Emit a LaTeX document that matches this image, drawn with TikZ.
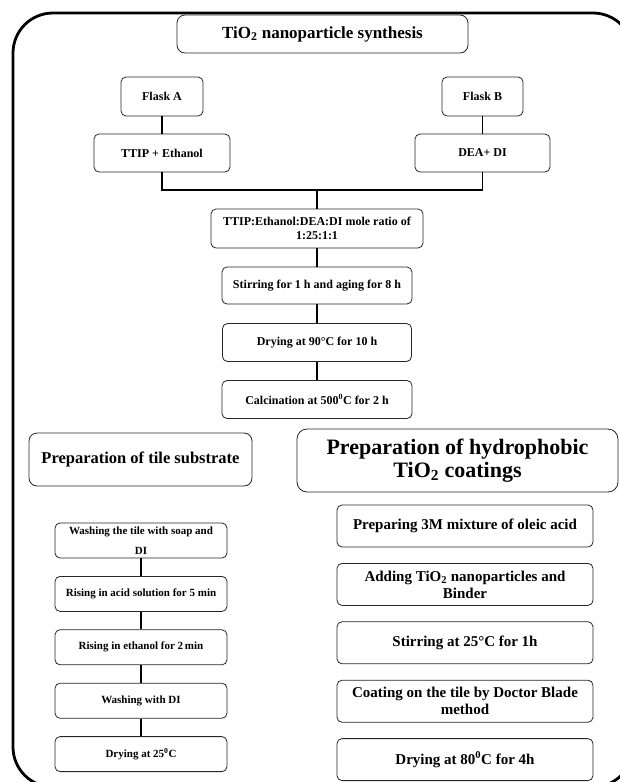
\documentclass[tikz,border=0pt]{standalone}
\usepackage{fontspec}
\setmainfont{Liberation Serif}
\usetikzlibrary{positioning}

\newcommand{\tiotwo}{TiO\textsubscript{2}}

\begin{document}
\begin{tikzpicture}[-, x=1pt, y=1pt, node distance=57pt, semithick]
  \tikzstyle{box}=[draw=black!85, line width=0.8pt, rounded corners=5pt, fill=white, align=center, inner sep=0pt, font=\bfseries\fontsize{12}{14}\selectfont]
  \tikzstyle{head}=[box, rounded corners=8pt]
  \tikzstyle{link}=[draw=black, line width=1.8pt]
  \tikzstyle{tilebox}=[box, minimum width=172pt, minimum height=35pt, font=\bfseries\fontsize{11}{13}\selectfont]
  \tikzstyle{coatbox}=[box, minimum width=256pt, minimum height=42pt, font=\bfseries\fontsize{15}{17}\selectfont]

  \useasboundingbox (0,0) rectangle (620,-782);
  \draw[line width=2.8pt, rounded corners=40pt] (13,-13) rectangle (633,-787);

  \node[head, minimum width=291pt, minimum height=38pt, font=\bfseries\fontsize{17}{20}\selectfont] (title) at (322.5,-34) {\tiotwo{} nanoparticle synthesis};

  \node[box, minimum width=82pt, minimum height=39pt] (flaskA) at (162,-96.5) {Flask A};
  \node[box, minimum width=136pt, minimum height=38pt] (ethA) [node distance=56.5pt, below of=flaskA] {TTIP + Ethanol};
  \node[box, minimum width=81pt, minimum height=39pt] (flaskB) [node distance=320.5pt, right of=flaskA] {Flask B};
  \node[box, minimum width=135pt, minimum height=38pt] (deaB) [node distance=56.5pt, below of=flaskB] {DEA+ DI};

  \coordinate (junc) at (317,-190);
  \node[box, minimum width=212pt, minimum height=39pt] (ratio) at (317,-228.5) {TTIP:Ethanol:DEA:DI mole ratio of\\1:25:1:1};
  \node[box, minimum width=190pt, minimum height=37pt] (stir) [below of=ratio] {Stirring for 1 h and aging for 8 h};
  \node[box, minimum width=189pt, minimum height=38pt] (dry) [below of=stir] {Drying at 90°C for 10 h};
  \node[box, minimum width=190pt, minimum height=38pt] (calc) [below of=dry] {Calcination at 500\textsuperscript{0}C for 2 h};

  \node[head, minimum width=223pt, minimum height=53pt, font=\bfseries\fontsize{16.5}{19}\selectfont] (tilehead) at (140.5,-459.5) {Preparation of tile substrate};
  \node[head, rounded corners=10pt, minimum width=321pt, minimum height=63pt, font=\bfseries\fontsize{22}{23}\selectfont] (coathead) at (457.5,-460.5) {Preparation of hydrophobic\\\tiotwo{} coatings};

  % tile substrate steps
  \begin{scope}[node distance=53.4pt]
    \node[tilebox, font=\bfseries\fontsize{11}{20}\selectfont] (wash) at (141,-540.5) {Washing the tile with soap and\\DI};
    \node[tilebox] (acid) [below of=wash] {Rising in acid solution for 5 min};
    \node[tilebox] (rinse) [below of=acid] {Rising in ethanol for 2\,min};
    \node[tilebox] (washdi) [below of=rinse] {Washing with DI};
    \node[tilebox] (drytile) [below of=washdi] {Drying at 25\textsuperscript{0}C};
  \end{scope}

  % coating steps
  \begin{scope}[node distance=58.4pt]
    \node[coatbox] (oleic) at (465,-526) {Preparing 3M mixture of oleic acid};
    \node[coatbox] (adding) [below of=oleic] {Adding \tiotwo{} nanoparticles and\\Binder};
    \node[coatbox] (stircoat) [below of=adding] {Stirring at 25°C for 1h};
    \node[coatbox] (blade) [below of=stircoat] {Coating on the tile by Doctor Blade\\method};
    \node[coatbox] (drycoat) [below of=blade] {Drying at 80\textsuperscript{0}C for 4h};
  \end{scope}

  \path[link] (flaskA) edge (ethA)
              (flaskB) edge (deaB)
              (ratio) edge (stir)
              (stir) edge (dry)
              (dry) edge (calc)
              (wash) edge (acid)
              (acid) edge (rinse)
              (rinse) edge (washdi)
              (washdi) edge (drytile);
  \draw[link] (ethA) |- (junc) -| (deaB);
  \draw[link] (junc) -- (ratio);
\end{tikzpicture}
\end{document}
